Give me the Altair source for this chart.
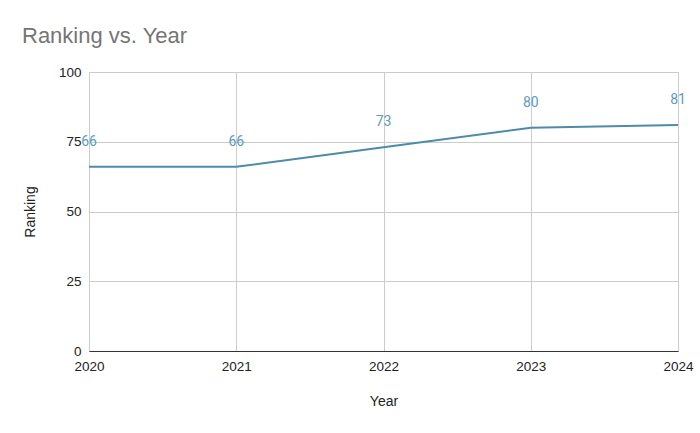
import altair as alt
import pandas as pd

years = [2020, 2021, 2022, 2023, 2024]
ranking = [66, 66, 73, 80, 81]

df = pd.DataFrame({"Year": years, "Ranking": ranking})

base = alt.Chart(df)

x = alt.X("Year:Q", scale=alt.Scale(domain=[2020, 2024], nice=False, zero=False),
          axis=alt.Axis(values=years, format="d", title="Year", grid=True,
                        gridColor="#cccccc", ticks=False, domainColor="#333333",
                        labelFont="Liberation Sans", labelFontSize=13.5, labelColor="#222222",
                        labelPadding=8, labelFlush=False, labelOverlap=False,
                        titleFont="Liberation Sans", titleFontSize=14, titleFontWeight="normal",
                        titleColor="#222222", titlePadding=22))
y = alt.Y("Ranking:Q", scale=alt.Scale(domain=[0, 100], nice=False),
          axis=alt.Axis(values=[0, 25, 50, 75, 100], title="Ranking", grid=True,
                        gridColor="#cccccc", ticks=False, domain=False,
                        labelFont="Liberation Sans", labelFontSize=13.5, labelColor="#222222",
                        labelPadding=8, labelFlush=False,
                        titleFont="Liberation Sans", titleFontSize=14, titleFontWeight="normal",
                        titleColor="#222222", titlePadding=21))

line = base.mark_line(color="#4e8ba9", strokeWidth=2).encode(x=x, y=y)
labels = base.mark_text(dy=-25, color="#5b9bc0", font="Roboto", fontSize=14).encode(
    x="Year:Q", y="Ranking:Q", text="Ranking:Q")

chart = (line + labels).properties(
    width=589, height=279,
    autosize=alt.AutoSizeParams(type="none"),
    padding={"left": 89, "top": 72, "right": 22, "bottom": 82},
    title=alt.TitleParams("Ranking vs. Year", anchor="start", frame="group", dx=-67,
                          offset=17, font="Liberation Sans", fontSize=22,
                          fontWeight="normal", color="#757575"),
).configure_view(stroke=None)

chart.save("out.html", embed_options={"renderer": "svg", "actions": False})
